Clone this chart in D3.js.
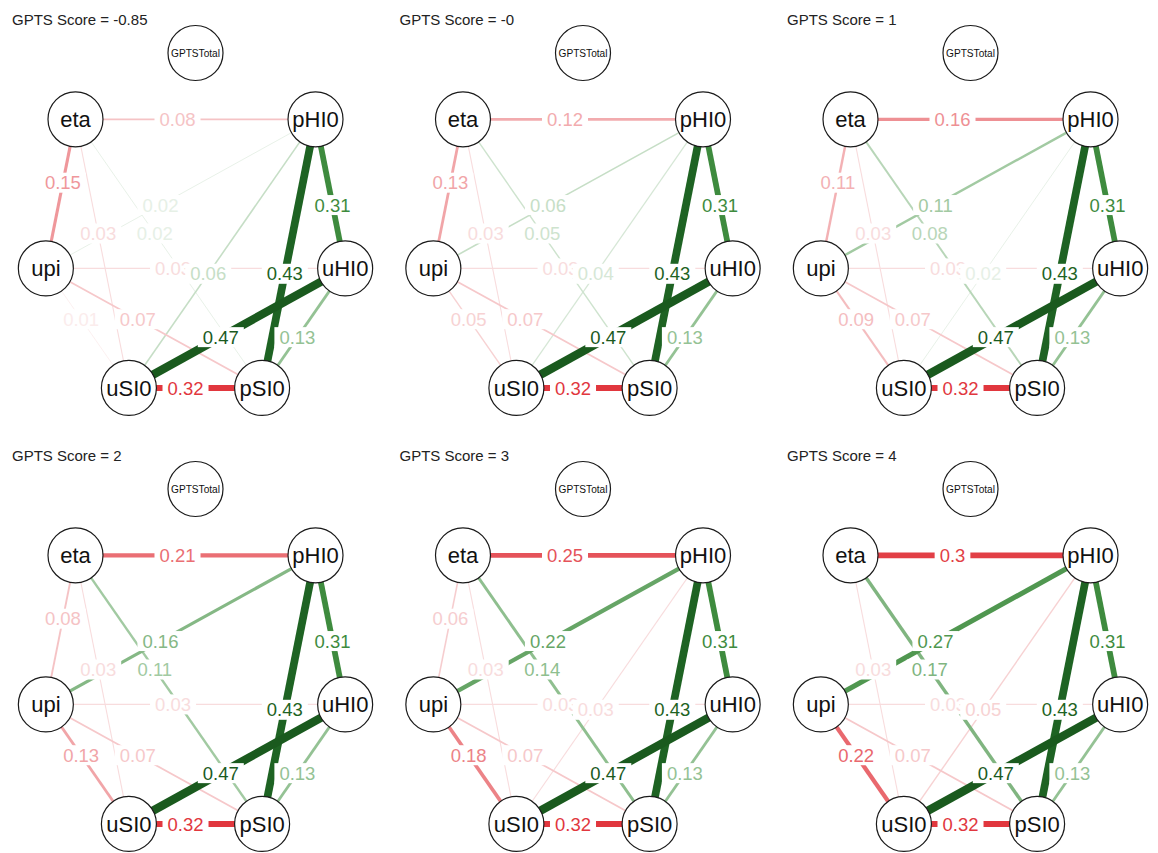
<!DOCTYPE html>
<html>
<head>
<meta charset="utf-8">
<script src="https://cdn.jsdelivr.net/npm/d3@7"></script>
<style>
  body { margin: 0; background: #fff; }
  svg { display: block; }
  text { font-family: "Liberation Sans", Arial, Helvetica, sans-serif; }
</style>
</head>
<body>
<svg id="chart" width="1158" height="853"></svg>
<script>
// Nodes in circular-layout order, clockwise from the top
const nodes = ["GPTSTotal", "pHI0", "uHI0", "pSI0", "uSI0", "upi", "eta"];

// Moderator values, one network per value
const scores = ["-0.85", "-0", "1", "2", "3", "4"];

// Edge list (label drawing order)
const edgePairs = [
  ["eta", "pHI0"],
  ["eta", "upi"],
  ["eta", "uSI0"],
  ["eta", "pSI0"],
  ["upi", "pHI0"],
  ["upi", "uHI0"],
  ["upi", "pSI0"],
  ["upi", "uSI0"],
  ["uSI0", "pHI0"],
  ["pHI0", "uHI0"],
  ["pHI0", "pSI0"],
  ["uHI0", "uSI0"],
  ["uHI0", "pSI0"],
  ["uSI0", "pSI0"]
];

// Edge weights at each score (negative = red, positive = green)
const wEtaPHI0  = [-0.08, -0.12, -0.16, -0.21, -0.25, -0.30];
const wEtaUpi   = [-0.15, -0.13, -0.11, -0.08, -0.06,  0.00];
const wEtaUSI0  = [-0.03, -0.03, -0.03, -0.03, -0.03, -0.03];
const wEtaPSI0  = [ 0.02,  0.05,  0.08,  0.11,  0.14,  0.17];
const wUpiPHI0  = [ 0.02,  0.06,  0.11,  0.16,  0.22,  0.27];
const wUpiUHI0  = [-0.03, -0.03, -0.03, -0.03, -0.03, -0.03];
const wUpiPSI0  = [-0.07, -0.07, -0.07, -0.07, -0.07, -0.07];
const wUpiUSI0  = [-0.01, -0.05, -0.09, -0.13, -0.18, -0.22];
const wUSI0PHI0 = [ 0.06,  0.04,  0.02,  0.00, -0.03, -0.05];
const wPHI0UHI0 = [ 0.31,  0.31,  0.31,  0.31,  0.31,  0.31];
const wPHI0PSI0 = [ 0.43,  0.43,  0.43,  0.43,  0.43,  0.43];
const wUHI0USI0 = [ 0.47,  0.47,  0.47,  0.47,  0.47,  0.47];
const wUHI0PSI0 = [ 0.13,  0.13,  0.13,  0.13,  0.13,  0.13];
const wUSI0PSI0 = [-0.32, -0.32, -0.32, -0.32, -0.32, -0.32];

const weightSeries = [wEtaPHI0, wEtaUpi, wEtaUSI0, wEtaPSI0, wUpiPHI0, wUpiUHI0,
  wUpiPSI0, wUpiUSI0, wUSI0PHI0, wPHI0UHI0, wPHI0PSI0, wUHI0USI0, wUHI0PSI0, wUSI0PSI0];

// ---- layout & style ----
const svg = d3.select("#chart");
const nodeR = 27.5;
const nodeFont = 22;
const labelPos = 0.575;           // fraction along the edge, from the earlier node
const maxW = 0.47;

const colX = d3.scaleLinear().domain([0, 1]).range([0, 387.5]);
const rowY = d3.scaleLinear().domain([0, 1]).range([0, 436]);

// unit circle -> panel coordinates (layout is stretched vertically)
const xs = d3.scaleLinear().domain([-1, 1]).range([42, 349]);
const ys = d3.scaleLinear().domain([1, -1]).range([53, 405.4]);

const angle = d3.scaleLinear().domain([0, nodes.length]).range([0, 2 * Math.PI]);
const pos = new Map(nodes.map((n, i) => [n, {
  x: xs(Math.sin(angle(i))),
  y: ys(Math.cos(angle(i))),
  i
}]));

const widthScale = d3.scaleLinear().domain([0, maxW]).range([0.6, 8.4]);
const posColor = d3.scaleLinear()
  .domain([0, 0.02, 0.06, 0.13, 0.22, 0.31, 0.43, 0.47])
  .range(["#ffffff", "#e6f0e6", "#c6dec6", "#94c294", "#66a566", "#3e8b3e", "#1e6323", "#1a5a1e"])
  .interpolate(d3.interpolateRgb).clamp(true);
const negColor = d3.scaleLinear()
  .domain([0, 0.01, 0.03, 0.08, 0.13, 0.16, 0.22, 0.25, 0.32])
  .range(["#ffffff", "#fbecec", "#f8dcdd", "#f5c3c5", "#f1a5a8", "#ee9094", "#e9686e", "#e5535a", "#e1373e"])
  .interpolate(d3.interpolateRgb).clamp(true);
const edgeColor = w => (w >= 0 ? posColor(w) : negColor(-w));
const fmt = w => String(+Math.abs(w).toFixed(2));

scores.forEach((score, k) => {
  const col = k % 3, row = Math.floor(k / 3);
  const g = svg.append("g")
    .attr("transform", `translate(${colX(col)},${rowY(row)})`);

  g.append("text")
    .attr("x", 12).attr("y", 25)
    .attr("font-size", 15)
    .attr("fill", "#222")
    .text(`GPTS Score = ${score}`);

  const edges = edgePairs.map((p, j) => {
    let a = pos.get(p[0]), b = pos.get(p[1]);
    if (a.i > b.i) [a, b] = [b, a];
    return { a, b, w: weightSeries[j][k], order: j };
  }).filter(e => e.w !== 0);

  // lines: weakest first so strong edges sit on top
  g.append("g").selectAll("line")
    .data(edges.slice().sort((p, q) => Math.abs(p.w) - Math.abs(q.w)))
    .join("line")
    .attr("x1", d => d.a.x).attr("y1", d => d.a.y)
    .attr("x2", d => d.b.x).attr("y2", d => d.b.y)
    .attr("stroke", d => edgeColor(d.w))
    .attr("stroke-width", d => widthScale(Math.abs(d.w)));

  // edge labels on a white plate, in edge-list order
  const lg = g.append("g");
  edges.forEach(e => {
    const lx = e.a.x + labelPos * (e.b.x - e.a.x);
    const ly = e.a.y + labelPos * (e.b.y - e.a.y);
    const grp = lg.append("g");
    const rect = grp.append("rect").attr("fill", "#fff");
    const t = grp.append("text")
      .attr("x", lx).attr("y", ly)
      .attr("text-anchor", "middle")
      .attr("dy", "0.36em")
      .attr("font-size", 18.5)
      .attr("fill", edgeColor(e.w))
      .text(fmt(e.w));
    const wText = t.node().getComputedTextLength();
    rect.attr("x", lx - wText / 2 - 5).attr("y", ly - 10)
      .attr("width", wText + 10).attr("height", 20);
  });

  // nodes
  const ng = g.append("g").selectAll("g")
    .data(nodes).join("g")
    .attr("transform", d => `translate(${pos.get(d).x},${pos.get(d).y})`);
  ng.append("circle")
    .attr("r", nodeR)
    .attr("fill", "#fff")
    .attr("stroke", "#1a1a1a")
    .attr("stroke-width", 1.2);
  ng.append("text")
    .attr("text-anchor", "middle")
    .attr("dy", "0.36em")
    .attr("fill", "#111")
    .attr("font-size", nodeFont)
    .text(d => d)
    .each(function () {
      const len = this.getComputedTextLength();
      const fit = 2 * nodeR - 6;
      if (len > fit) d3.select(this).attr("font-size", nodeFont * fit / len);
    });
});
</script>
</body>
</html>
